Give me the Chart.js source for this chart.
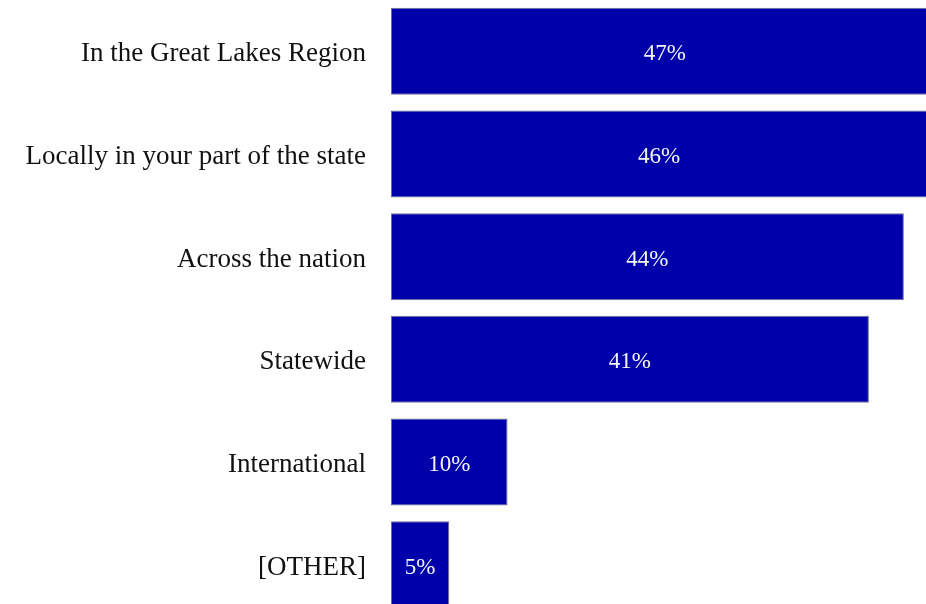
<!DOCTYPE html>
<html lang="en">
<head>
    <meta charset="UTF-8">
    <title>Where it matters</title>
    <style>
        html, body { margin: 0; padding: 0; background: #fff; overflow: hidden; }
        #wrap { width: 926px; height: 604px; overflow: hidden; }
        #box { width: 926px; height: 616px; position: relative; }
    </style>
</head>
<body>
    <div id="wrap">
        <div id="box">
            <canvas id="myChart"></canvas>
        </div>
    </div>

    <script src="https://cdn.jsdelivr.net/npm/chart.js"></script>

    <script>
    const categories = [
        "In the Great Lakes Region",
        "Locally in your part of the state",
        "Across the nation",
        "Statewide",
        "International",
        "[OTHER]"
    ];
    const percents = [47, 46, 44, 41, 10, 5];
    const xMax = 45.9;

    // writes the % value in the middle of each bar
    const valueLabels = {
        id: 'valueLabels',
        afterDatasetsDraw(chart) {
            const c = chart.ctx;
            const meta = chart.getDatasetMeta(0);
            c.save();
            c.fillStyle = '#f4f4f4';
            c.font = '23px "Liberation Serif", serif';
            c.textAlign = 'center';
            c.textBaseline = 'middle';
            meta.data.forEach(function (bar, i) {
                c.fillText(percents[i] + '%', (bar.x + bar.base) / 2, bar.y + 3);
            });
            c.restore();
        }
    };

    const ctx = document.getElementById('myChart');
    new Chart(ctx, {
        type: 'bar',
        data: {
            labels: categories,
            datasets: [{
                data: percents,
                backgroundColor: '#0000aa',
                borderColor: '#70708a',
                borderWidth: 1,
                borderSkipped: false,
                barPercentage: 1,
                categoryPercentage: 0.847
            }]
        },
        options: {
            indexAxis: 'y',
            responsive: true,
            maintainAspectRatio: false,
            animation: false,
            layout: { padding: 0 },
            plugins: {
                legend: { display: false },
                tooltip: { enabled: false }
            },
            scales: {
                x: {
                    display: false,
                    min: 0,
                    max: xMax
                },
                y: {
                    grid: { display: false, drawTicks: false },
                    border: { display: false },
                    ticks: {
                        color: '#111',
                        padding: 25,
                        labelOffset: 3,
                        font: { family: '"Liberation Serif", serif', size: 27 }
                    },
                    afterFit(scale) {
                        scale.width = 391;
                        scale.paddingTop = 0;
                        scale.paddingBottom = 0;
                    }
                }
            }
        },
        plugins: [valueLabels]
    });
    </script>
</body>
</html>
